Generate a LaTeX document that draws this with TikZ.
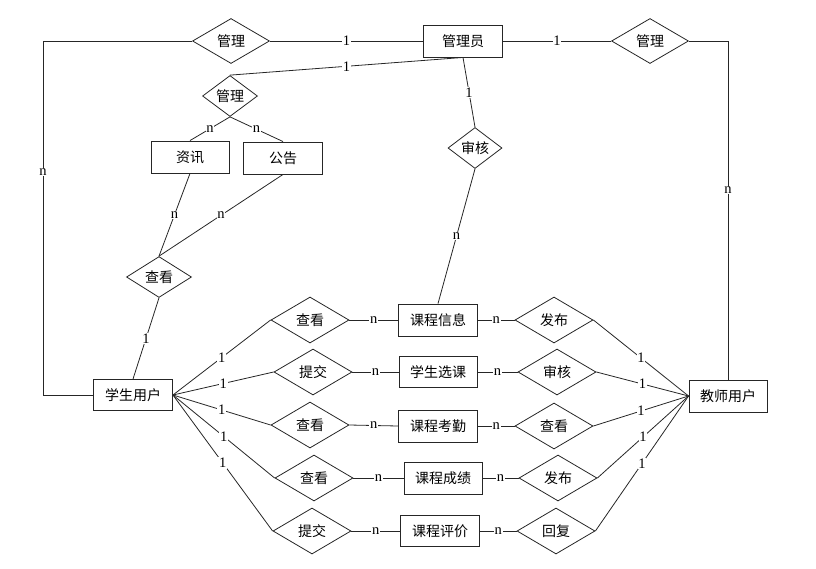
\documentclass[tikz,border=0pt]{standalone}
\usepackage{fontspec}
\setmainfont{Liberation Serif}
\newfontfamily\cjk{Noto Sans CJK SC}
\usetikzlibrary{shapes.geometric}
\tikzset{
  ent/.style={draw=black!85, line width=0.9pt, rectangle, minimum width=78pt, minimum height=32pt, inner sep=0pt, font=\cjk\fontsize{14}{16}\selectfont},
  rel/.style={draw=black!85, line width=0.8pt, diamond, minimum width=78pt, minimum height=46pt, inner sep=0pt, font=\cjk\fontsize{14}{16}\selectfont},
  lnk/.style={draw=black!85, line width=0.8pt},
  lbl/.style={fill=white, inner sep=0.8pt, font=\fontsize{14.5}{16}\selectfont}
}
\begin{document}
\begin{tikzpicture}[x=1pt,y=-1pt]
\useasboundingbox (0,0) rectangle (816,568);
% entities
\node[ent, minimum width=79pt] (admin) at (463,41) {管理员};
\node[ent] (info) at (190,157) {资讯};
\node[ent, minimum width=79pt] (notice) at (283,158) {公告};
\node[ent, minimum width=79pt, minimum height=31pt] (stu) at (133,395) {学生用户};
\node[ent] (tea) at (728,396) {教师用户};
\node[ent, minimum width=79pt] (e1) at (438,320) {课程信息};
\node[ent, minimum height=31pt] (e2) at (438,372) {学生选课};
\node[ent, minimum width=79pt] (e3) at (438,426) {课程考勤};
\node[ent] (e4) at (443,478) {课程成绩};
\node[ent, minimum width=79pt, minimum height=31pt] (e5) at (440,531) {课程评价};
% relations
\node[rel, minimum width=77pt, minimum height=45pt] (rtl) at (231,41) {管理};
\node[rel, minimum width=77pt, minimum height=45pt] (rtr) at (650,41) {管理};
\node[rel, minimum width=55pt, minimum height=30pt] (rmg) at (230,96) {管理};
\node[rel, minimum width=54pt, minimum height=30pt] (rsh) at (475,148) {审核};
\node[rel, minimum width=65pt, minimum height=24pt] (rck) at (159,277) {查看};
\node[rel] (L1) at (310,320) {查看};
\node[rel] (L2) at (313,372) {提交};
\node[rel] (L3) at (310,425) {查看};
\node[rel] (L4) at (314,478) {查看};
\node[rel] (L5) at (312,531) {提交};
\node[rel] (R1) at (554,320) {发布};
\node[rel] (R2) at (557,372) {审核};
\node[rel] (R3) at (554,426) {查看};
\node[rel] (R4) at (558,478) {发布};
\node[rel] (R5) at (556,531) {回复};
% corner coordinates
\coordinate (cl1) at (43,395);
\coordinate (cl2) at (43,41);
\coordinate (cr1) at (728,41);
% connectors
\draw[lnk] (stu.west) -- (cl1) -- node[lbl,pos=0.63]{n} (cl2) -- (rtl.west);
\draw[lnk] (rtl.east) -- node[lbl]{1} (admin.west);
\draw[lnk] (admin.east) -- node[lbl]{1} (rtr.west);
\draw[lnk] (rtr.east) -- (cr1) -- node[lbl,pos=0.44]{n} (tea.north);
\draw[lnk] (rmg.north) -- node[lbl]{1} (admin.south);
\draw[lnk] (rmg.south) -- node[lbl]{n} (info.north);
\draw[lnk] (rmg.south) -- node[lbl]{n} (notice.north);
\draw[lnk] (admin.south) -- node[lbl]{1} (rsh.north);
\draw[lnk] (rsh.south) -- node[lbl]{n} (e1.north);
\draw[lnk] (info.south) -- node[lbl]{n} (rck.north);
\draw[lnk] (notice.south) -- node[lbl]{n} (rck.north);
\draw[lnk] (rck.south) -- node[lbl]{1} (stu.north);
\foreach \i in {1,...,5}{
  \draw[lnk] (stu.east) -- node[lbl]{1} (L\i.west);
  \draw[lnk] (L\i.east) -- node[lbl]{n} (e\i.west);
  \draw[lnk] (e\i.east) -- node[lbl]{n} (R\i.west);
  \draw[lnk] (R\i.east) -- node[lbl]{1} (tea.west);
}
\end{tikzpicture}
\end{document}
